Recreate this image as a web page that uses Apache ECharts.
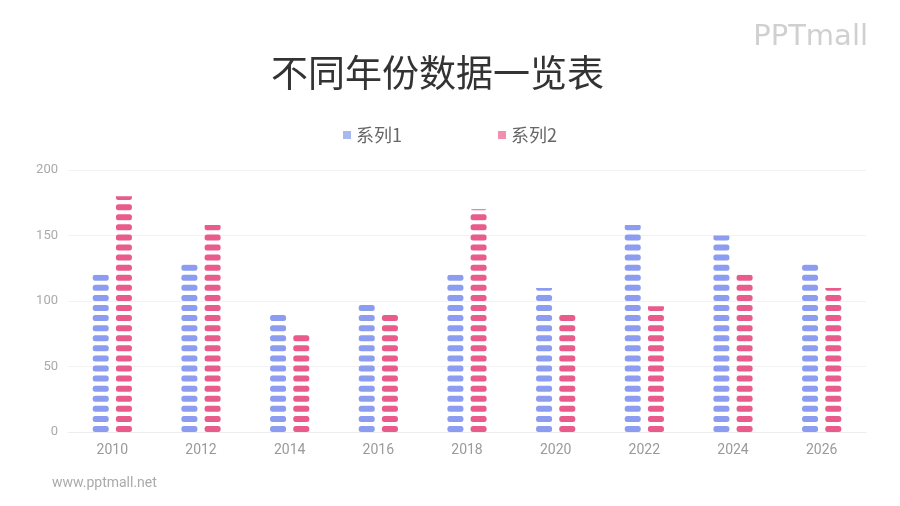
<!DOCTYPE html>
<html><head><meta charset="utf-8">
<script src="https://cdn.jsdelivr.net/npm/echarts@6/dist/echarts.min.js"></script>
<style>html,body{margin:0;padding:0;background:#fff}#c{width:900px;height:506px}</style>
</head><body><div id="c"></div>
<script>
var categories = ['2010','2012','2014','2016','2018','2020','2022','2024','2026'];
var series1 = [120,128,90,100,120,110,158,150,128];
var series2 = [180,158,75,90,170,90,96,120,110];
var yTicks = [0,50,100,150,200];
var seriesNames = ['系列1','系列2'];
var repeatBound = 197;

var pill = 'path://M2.5,0 H13.5 A2.5,2.5 0 0 1 16,2.5 V3.5 A2.5,2.5 0 0 1 13.5,6 H2.5 A2.5,2.5 0 0 1 0,3.5 V2.5 A2.5,2.5 0 0 1 2.5,0 Z';
var chart = echarts.init(document.getElementById('c'), null, {renderer:'canvas'});
chart.setOption({
  animation:false,
  backgroundColor:'#fff',
  title:{text:'不同年份数据一览表', left:266, top:49,
    textStyle:{fontFamily:'Noto Sans CJK SC', fontSize:37, fontWeight:'normal', color:'#333'}},
  legend:{top:121, left:'center', itemGap:96, itemWidth:8, itemHeight:8, icon:'rect',
    textStyle:{fontFamily:'Noto Sans CJK SC', fontSize:18, color:'#666'},
    data:[{name:seriesNames[0], itemStyle:{color:'#aab8f2'}},{name:seriesNames[1], itemStyle:{color:'#f08fb2'}}]},
  graphic:[
    {type:'text', right:32, top:23, style:{text:'PPTmall', fontFamily:'Verdana, DejaVu Sans', fontSize:29, fontWeight:'normal', fill:'#d0d0d0'}},
    {type:'text', left:52, top:476, style:{text:'www.pptmall.net', fontFamily:'Roboto', fontSize:14, fill:'#aaa'}}
  ],
  grid:{left:68, right:34, top:170, bottom:74},
  xAxis:{type:'category', data:categories,
    axisLine:{show:true, lineStyle:{color:'#eee'}}, axisTick:{show:false},
    axisLabel:{color:'#9a9a9a', fontSize:14, margin:11, fontFamily:'Roboto'}},
  yAxis:{type:'value', min:yTicks[0], max:yTicks[yTicks.length-1], interval:50,
    axisLine:{show:false}, axisTick:{show:false},
    splitLine:{lineStyle:{color:'#f2f2f2'}},
    axisLabel:{color:'#aaa', fontSize:13, margin:10, fontFamily:'Roboto'}},
  series:[
    {name:seriesNames[0], type:'pictorialBar', data:series1, barWidth:16, barGap:'45%',
      symbol:pill, symbolRepeat:true, symbolClip:true, symbolSize:[16,6], symbolMargin:2.1,
      symbolBoundingData:repeatBound, symbolPosition:'start', itemStyle:{color:'#8c9cf0'}},
    {name:seriesNames[1], type:'pictorialBar', data:series2, barWidth:16, barGap:'45%',
      symbol:pill, symbolRepeat:true, symbolClip:true, symbolSize:[16,6], symbolMargin:2.1,
      symbolBoundingData:repeatBound, symbolPosition:'start', itemStyle:{color:'#e95b8b'}}
  ]
});
</script></body></html>
